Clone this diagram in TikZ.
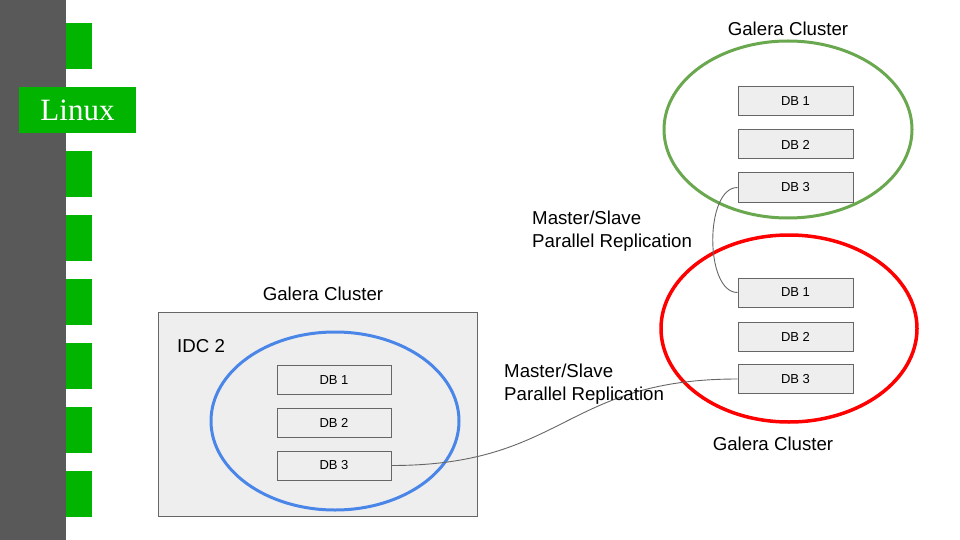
\documentclass[tikz,border=0pt]{standalone}
\usepackage{fontspec}
\setmainfont{Liberation Sans}
\newfontfamily\seriffont{Liberation Serif}
\usetikzlibrary{shapes.geometric}
\definecolor{barGray}{HTML}{595959}
\definecolor{tabGreen}{HTML}{00B400}
\definecolor{boxFill}{HTML}{EEEEEE}
\definecolor{boxLine}{HTML}{666666}
\definecolor{ringBlue}{HTML}{4A86E8}
\definecolor{ringGreen}{HTML}{6AA84F}
\definecolor{ringRed}{HTML}{FF0000}
\begin{document}
\begin{tikzpicture}[x=1pt,y=-1pt,
 dbbox/.style={draw=boxLine, fill=boxFill, line width=1pt, minimum width=115pt, minimum height=29pt, inner sep=0pt, font=\fontsize{13}{15}\selectfont},
 ring/.style={ellipse, draw, inner sep=0pt},
 lbl/.style={font=\fontsize{18.67}{22.5}\selectfont, inner sep=0pt},
 link/.style={draw=boxLine, line width=0.9pt}]
\useasboundingbox (0,0) rectangle (960,540);
% side bar
\fill[barGray] (0,0) rectangle (66,540);
\foreach \k in {0,...,7} \fill[tabGreen] (66,23+64*\k) rectangle (92,69+64*\k);
\node[fill=tabGreen, minimum width=117pt, minimum height=46pt, inner sep=0pt, text=white, font=\seriffont\fontsize{31}{31}\selectfont] (linux) at (77.5,110) {\raisebox{-1.5pt}{Linux}};
% bottom-left cluster (IDC 2)
\node[draw=boxLine, fill=boxFill, line width=1pt, minimum width=319pt, minimum height=204pt, inner sep=0pt] (idc) at (317.5,414) {};
\node[lbl] (idclbl) at (323,294) {Galera Cluster};
\node[lbl, anchor=west] (idcname) at (177,346) {IDC 2};
\node[ring, draw=ringBlue, line width=3pt, minimum width=248pt, minimum height=178pt] (blue) at (335,421) {};
\node[dbbox, minimum width=114pt] (b1) at (334,380) {\raisebox{-1pt}{DB 1}};
\node[dbbox, minimum width=114pt] (b2) at (334,422.5) {\raisebox{-1pt}{DB 2}};
\node[dbbox, minimum width=114pt] (b3) at (334,465.5) {\raisebox{-1pt}{DB 3}};
% top-right cluster
\node[lbl] (toplbl) at (788,29) {Galera Cluster};
\node[ring, draw=ringGreen, line width=3pt, minimum width=248pt, minimum height=177pt] (green) at (788,129.5) {};
\node[dbbox] (t1) at (795.5,101.5) {\raisebox{-1pt}{DB 1}};
\node[dbbox] (t2) at (795.5,144.5) {\raisebox{-1pt}{DB 2}};
\node[dbbox] (t3) at (795.5,187.5) {\raisebox{-1pt}{DB 3}};
% middle-right cluster
\node[ring, draw=ringRed, line width=3.5pt, minimum width=256pt, minimum height=187pt] (red) at (789,328.5) {};
\node[dbbox] (r1) at (795.5,292.5) {\raisebox{-1pt}{DB 1}};
\node[dbbox] (r2) at (795.5,336.5) {\raisebox{-1pt}{DB 2}};
\node[dbbox] (r3) at (795.5,379) {\raisebox{-1pt}{DB 3}};
\node[lbl] (redlbl) at (773,444) {Galera Cluster};
% replication links
\draw[link] (t3.west) .. controls +(-33,0) and +(-33,0) .. (r1.west);
\draw[link] (b3.east) .. controls +(174,0) and +(-174,0) .. (r3.west);
\node[lbl, anchor=west, align=left] (rep1) at (532,231) {Master/Slave\\Parallel Replication};
\node[lbl, anchor=west, align=left] (rep2) at (504,384) {Master/Slave\\Parallel Replication};
\end{tikzpicture}
\end{document}
